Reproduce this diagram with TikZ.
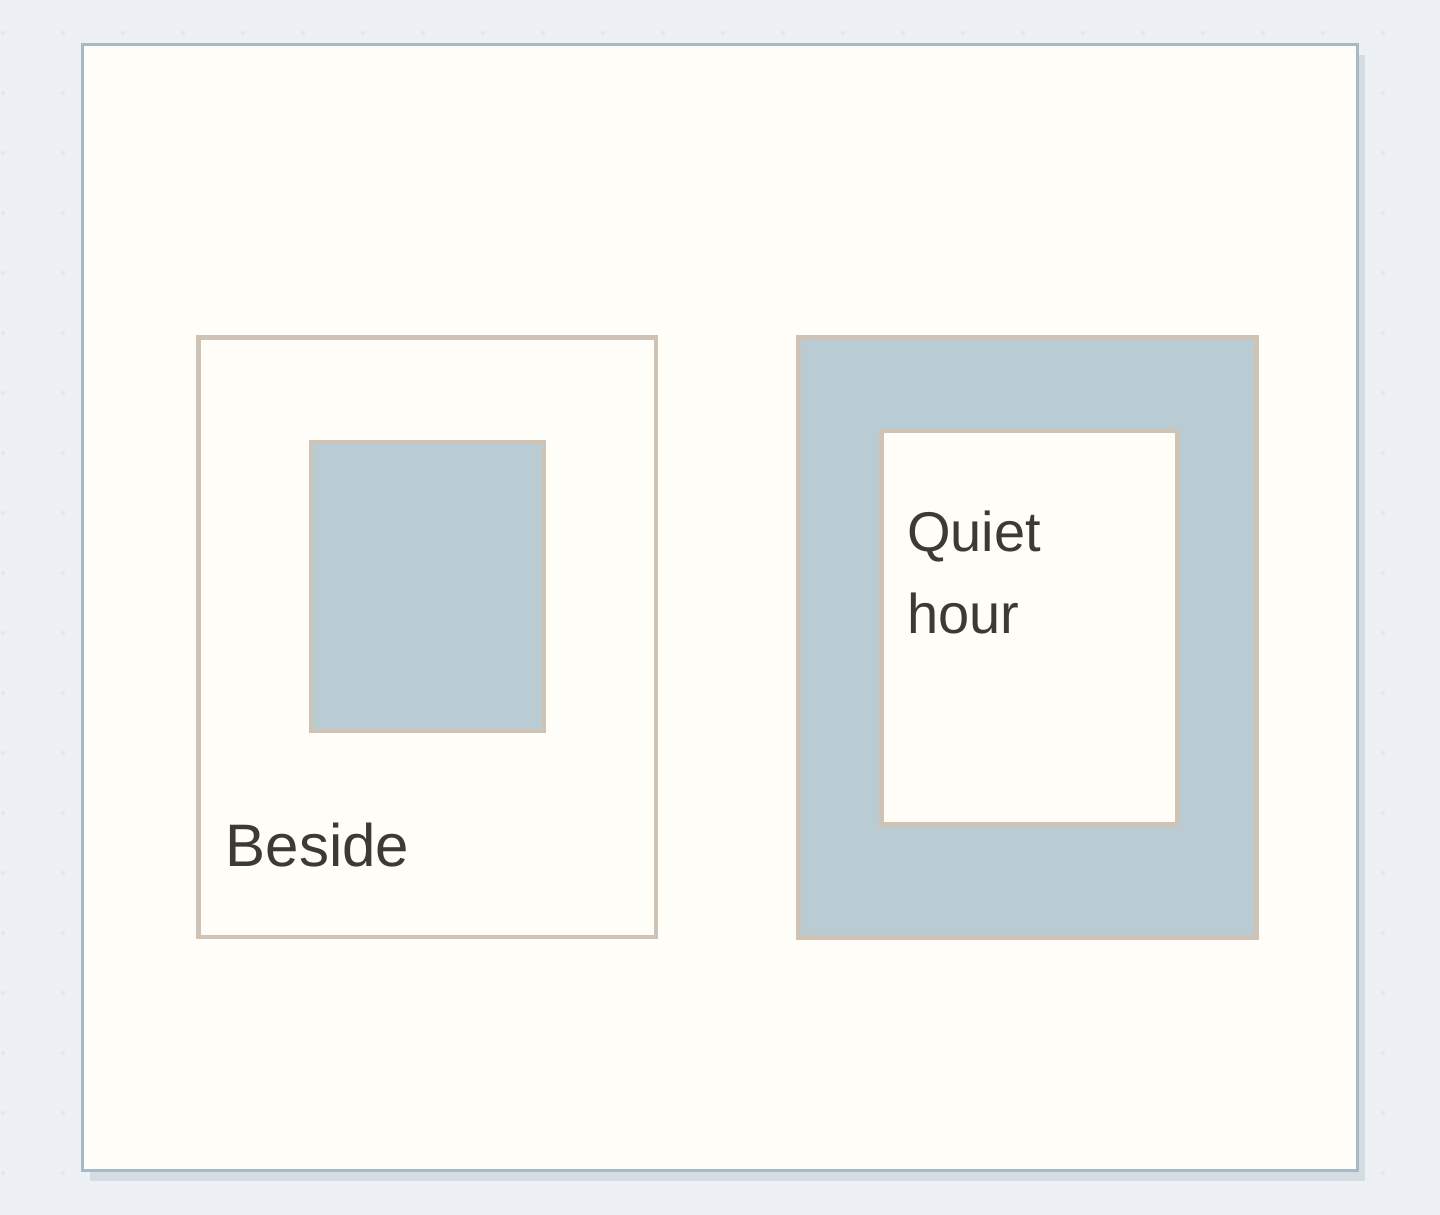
\documentclass[tikz,border=0pt]{standalone}
\usepackage{fontspec}
\setmainfont{Liberation Sans}
\definecolor{bgc}{HTML}{EDF0F5}
\definecolor{dotc}{HTML}{E3E8EE}
\definecolor{framefill}{HTML}{FFFDF8}
\definecolor{framestroke}{HTML}{A9B8C5}
\definecolor{shadowc}{HTML}{D4DCE4}
\definecolor{boxstroke}{HTML}{CFC3B6}
\definecolor{bluefill}{HTML}{B9CCD3}
\definecolor{textc}{HTML}{3D3935}
\tikzset{
  boxline/.style={draw=boxstroke, line width=4.5pt, inner sep=0pt, outer sep=0pt, anchor=north west},
  lbl/.style={text=textc, inner sep=0pt, font=\fontsize{60}{72}\selectfont},
}
\begin{document}
\begin{tikzpicture}[x=1pt,y=-1pt]
  \fill[bgc] (0,0) rectangle (1440,1215);
  \useasboundingbox (0,0) rectangle (1440,1215);
  % dot grid
  \foreach \i in {0,...,23} {
    \foreach \j in {0,...,19} {
      \fill[dotc] (3+60*\i,33+60*\j) circle (2.2);
    }
  }
  % shadow and frame
  \fill[shadowc] (90,55) rectangle (1365,1180.5);
  \draw[fill=framefill, draw=framestroke, line width=3pt] (82.5,45) rectangle (1357.5,1170);
  % left: beside
  \node[boxline, fill=framefill, minimum width=457.5pt, minimum height=599.7pt] (outerL) at (198.5,337.3) {};
  \node[boxline, fill=bluefill, minimum width=232.8pt, minimum height=289pt] (innerL) at (311,442) {};
  \node[lbl, anchor=base west] (beside) at (225.5,866) {Beside};
  % right: quiet hour
  \node[boxline, fill=bluefill, minimum width=457.6pt, minimum height=600pt] (outerR) at (798.7,337.3) {};
  \node[boxline, fill=framefill, minimum width=296.2pt, minimum height=393.7pt] (innerR) at (881.3,431) {};
  \node[lbl, anchor=base west, align=left, font=\fontsize{56}{82}\selectfont] (quiet) at (907,633.5) {Quiet\\hour};
\end{tikzpicture}
\end{document}
